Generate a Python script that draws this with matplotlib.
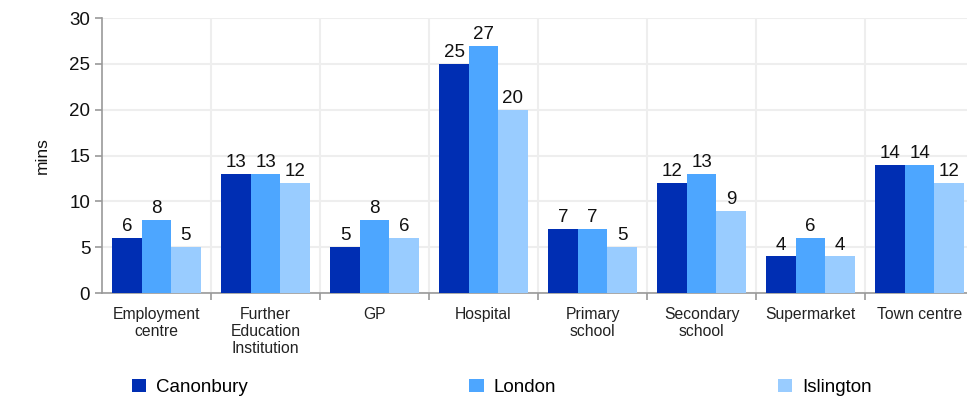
import matplotlib
matplotlib.use("Agg")
import matplotlib.pyplot as plt
import numpy as np

plt.rcParams["font.family"] = ["Liberation Sans", "DejaVu Sans"]

CATEGORIES = ["Employment\ncentre", "Further\nEducation\nInstitution", "GP", "Hospital",
              "Primary\nschool", "Secondary\nschool", "Supermarket", "Town centre"]
SERIES = ["Canonbury", "London", "Islington"]
CANONBURY = [6, 13, 5, 25, 7, 12, 4, 14]
LONDON = [8, 13, 8, 27, 7, 13, 6, 14]
ISLINGTON = [5, 12, 6, 20, 5, 9, 4, 12]
COLORS = ["#002EB3", "#4DA6FF", "#99CCFF"]

fig = plt.figure(figsize=(9.67, 3.96), dpi=100)
ax = fig.add_axes([0.1055, 0.26, 0.9018, 0.6945])

x = np.arange(len(CATEGORIES))
w = 0.27
for k, (name, vals, col) in enumerate(zip(SERIES, [CANONBURY, LONDON, ISLINGTON], COLORS)):
    bars = ax.bar(x + (k - 1) * w, vals, w, color=col, label=name, zorder=3)
    ax.bar_label(bars, labels=[str(v) for v in vals], padding=2, fontsize=13.5, color="#111111")

ax.set_xlim(-0.5, len(CATEGORIES) - 0.5)
ax.set_ylim(0, 30)
ax.set_yticks(range(0, 31, 5))
ax.set_xticks(x)
ax.set_xticklabels(CATEGORIES, fontsize=11.3, color="#222222", linespacing=1.15)
ax.set_xticks(np.arange(0.5, len(CATEGORIES) - 0.5, 1), minor=True)
ax.tick_params(axis="x", which="major", length=0, pad=10)
ax.tick_params(axis="x", which="minor", length=5, width=1.2, color="#999999", direction="out")
ax.tick_params(axis="y", length=5, width=1.2, color="#999999", labelsize=13.5, labelcolor="#111111")

ax.grid(axis="y", color="#EEEEEE", lw=1.5, zorder=0)
ax.grid(axis="x", which="minor", color="#EEEEEE", lw=1.5, zorder=0)
for s in ["top", "right"]:
    ax.spines[s].set_visible(False)
for s in ["left", "bottom"]:
    ax.spines[s].set_color("#999999")
    ax.spines[s].set_linewidth(1.2)

ax.set_ylabel("mins", fontsize=12.5, color="#111111", labelpad=14)

fig.legend(loc="lower left", bbox_to_anchor=(0.136, 0.0, 0.766, 0.06), ncol=3, mode="expand",
           frameon=False, fontsize=13.5, handlelength=0.75, handleheight=0.75,
           handletextpad=0.55, borderaxespad=0, borderpad=0)

fig.savefig("out.png", dpi=100)
